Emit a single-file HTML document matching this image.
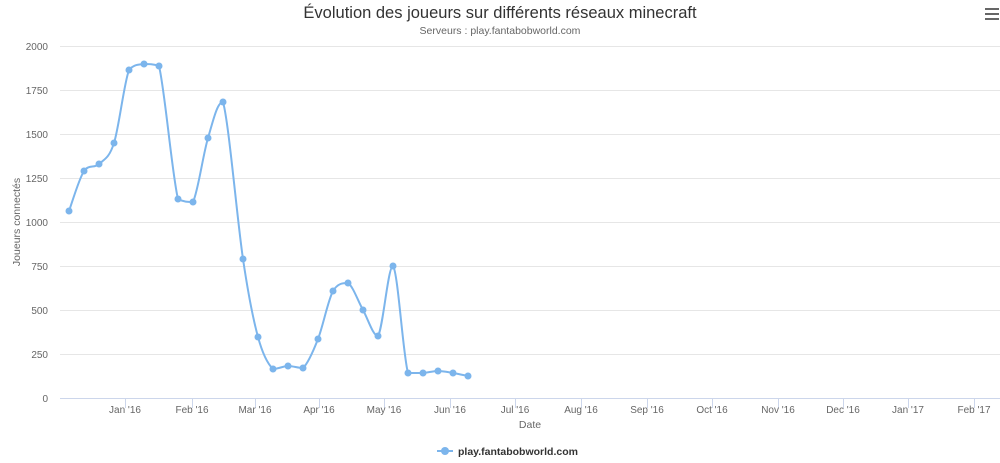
<!DOCTYPE html>
<html><head><meta charset="utf-8"><style>
body{margin:0;background:#fff;}
svg{display:block;font-family:"Liberation Sans",sans-serif;}
</style></head><body>
<svg id="s" width="1000" height="463" viewBox="0 0 1000 463">
<text x="500" y="18" text-anchor="middle" font-size="16.5" fill="#333">Évolution des joueurs sur différents réseaux minecraft</text>
<text x="500" y="34" text-anchor="middle" font-size="10.5" fill="#666">Serveurs : play.fantabobworld.com</text>
<g fill="#666"><rect x="985" y="8" width="14" height="2"/><rect x="985" y="13" width="14" height="2"/><rect x="985" y="18" width="14" height="2"/></g>
<g id="grid" stroke="#e6e6e6" stroke-width="1"></g>
<line x1="60" y1="398.5" x2="1000" y2="398.5" stroke="#ccd6eb"/>
<g id="ticks" stroke="#ccd6eb"></g>
<g id="labels" font-size="10" fill="#666"></g>
<text x="20" y="222" transform="rotate(-90 20 222)" text-anchor="middle" font-size="10.5" fill="#666">Joueurs connectés</text>
<text x="530" y="428" text-anchor="middle" font-size="10.5" fill="#666">Date</text>
<path id="line" fill="none" stroke="#7cb5ec" stroke-width="2"/>
<g id="pts" fill="#7cb5ec"></g>
<line x1="437" y1="451" x2="453" y2="451" stroke="#7cb5ec" stroke-width="2"/>
<circle cx="445" cy="451" r="4" fill="#7cb5ec"/>
<text x="458" y="455" font-size="10.5" font-weight="bold" fill="#333">play.fantabobworld.com</text>
</svg>
<script>
var ns="http://www.w3.org/2000/svg";
function el(p,t,a,txt){var e=document.createElementNS(ns,t);for(var k in a)e.setAttribute(k,a[k]);if(txt)e.textContent=txt;document.getElementById(p).appendChild(e);}
var yl=[0,250,500,750,1000,1250,1500,1750,2000];
yl.forEach(function(v){var y=398-v*0.176;if(v)el("grid","line",{x1:60,x2:1000,y1:y+0.5,y2:y+0.5});el("labels","text",{x:48,y:y+4,"text-anchor":"end"},String(v));});
var mx=[[125,"Jan '16"],[192,"Feb '16"],[255,"Mar '16"],[319,"Apr '16"],[384,"May '16"],[450,"Jun '16"],[515,"Jul '16"],[581,"Aug '16"],[647,"Sep '16"],[712,"Oct '16"],[778,"Nov '16"],[843,"Dec '16"],[908,"Jan '17"],[974,"Feb '17"]];
mx.forEach(function(m){el("ticks","line",{x1:m[0]+0.5,x2:m[0]+0.5,y1:398,y2:408});el("labels","text",{x:m[0],y:413,"text-anchor":"middle"},m[1]);});
var P=[[69,211],[84,171],[99,164],[114,143],[129,70],[144,64],[159,66],[178,199],[193,202],[208,138],[223,102],[243,259],[258,337],[273,369],[288,366],[303,368],[318,339],[333,291],[348,283],[363,310],[378,336],[393,266],[408,373],[423,373],[438,371],[453,373],[468,376]];
function cl(v,a,b){var lo=Math.min(a,b),hi=Math.max(a,b);return Math.max(lo,Math.min(hi,v));}
var d="M"+P[0][0]+" "+P[0][1];
for(var i=0;i<P.length-1;i++){var p0=P[i-1]||P[i],p1=P[i],p2=P[i+1],p3=P[i+2]||p2;
var c1x=p1[0]+(p2[0]-p0[0])/6, c1y=cl(p1[1]+(p2[1]-p0[1])/6,p1[1],p2[1]);
var c2x=p2[0]-(p3[0]-p1[0])/6, c2y=cl(p2[1]-(p3[1]-p1[1])/6,p1[1],p2[1]);
d+=" C"+c1x+" "+c1y+" "+c2x+" "+c2y+" "+p2[0]+" "+p2[1];}
document.getElementById("line").setAttribute("d",d);
P.forEach(function(p){el("pts","circle",{cx:p[0],cy:p[1],r:3.5});});
</script>
</body></html>
